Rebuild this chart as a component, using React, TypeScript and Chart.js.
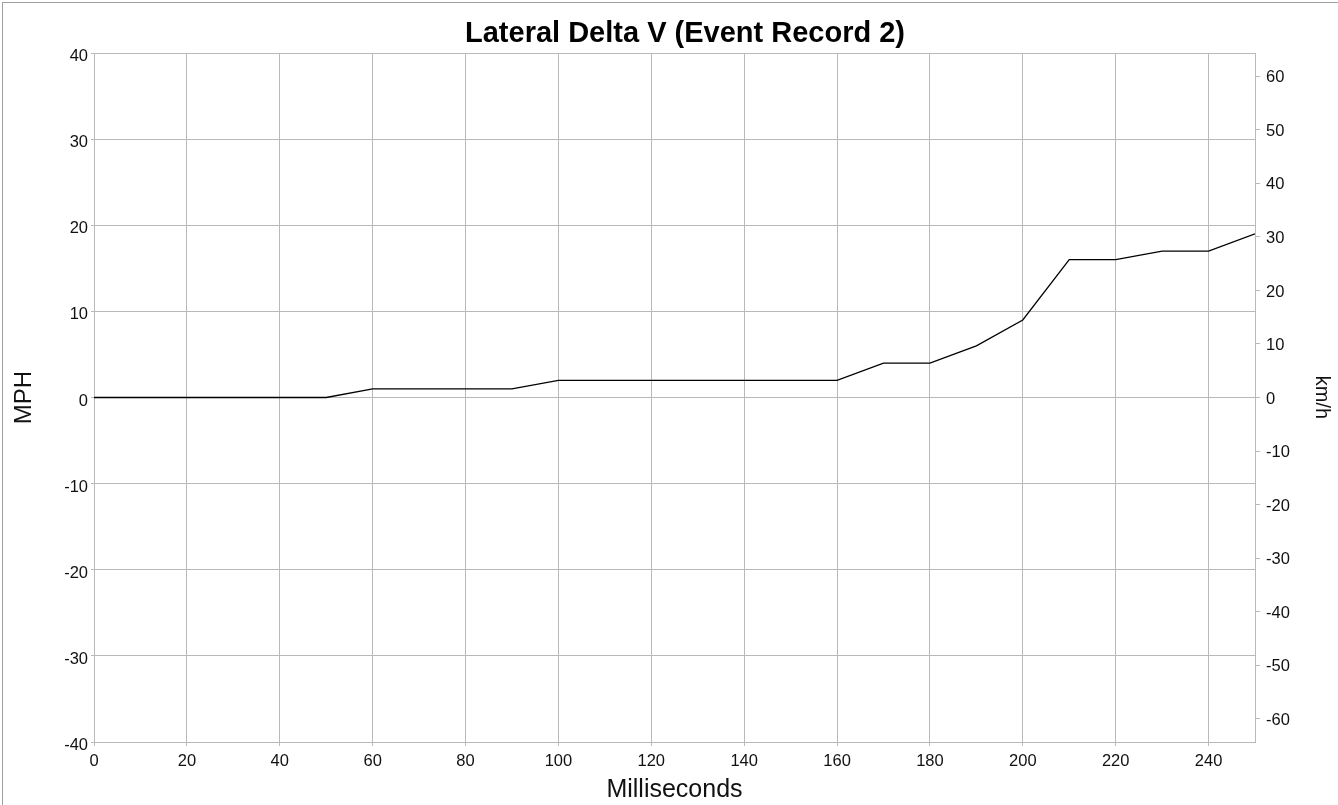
import React, { useEffect, useRef } from "react";
import { Chart, registerables } from "chart.js";

Chart.register(...registerables);

const titleText = "Lateral Delta V (Event Record 2)";
const timesMs = [0, 10, 20, 30, 40, 50, 60, 70, 80, 90, 100, 110, 120, 130, 140, 150, 160, 170, 180, 190, 200, 210, 220, 230, 240, 250];
const deltaVMph = [0, 0, 0, 0, 0, 0, 1, 1, 1, 1, 2, 2, 2, 2, 2, 2, 2, 4, 4, 6, 9, 16, 16, 17, 17, 19];
const mphMin = -40;
const mphMax = 40;
const mphStep = 10;
const kmhPerMph = 1.609344;
const kmhStep = 10;
const xMin = 0;
const xMax = 250;
const xStep = 20;
const xTitle = "Milliseconds";
const yLeftTitle = "MPH";
const yRightTitle = "km/h";

const FONT = '"Liberation Sans", Arial, sans-serif';
const GRID = "#b9b9b9";
const TEXT = "#111";

export default function App() {
  const ref = useRef<HTMLCanvasElement | null>(null);

  useEffect(() => {
    if (!ref.current) return;
    const titlePlugin = {
      id: "customTitle",
      afterDraw(chart: any) {
        const ctx = chart.ctx;
        ctx.save();
        ctx.font = `bold 29px ${FONT}`;
        ctx.fillStyle = "#000";
        ctx.textAlign = "center";
        ctx.textBaseline = "alphabetic";
        ctx.fillText(titleText, 685, 42);
        ctx.restore();
      },
    };
    const chart = new Chart(ref.current, {
      type: "line",
      data: {
        datasets: [
          {
            label: "Lateral Delta V",
            data: timesMs.map((t, i) => ({ x: t, y: deltaVMph[i] })),
            borderColor: "#000",
            borderWidth: 1.3,
            pointRadius: 0,
            tension: 0,
            fill: false,
          },
        ],
      },
      options: {
        responsive: false,
        animation: false,
        layout: { padding: { top: 53, left: 0, right: 0, bottom: 0 } },
        plugins: {
          legend: { display: false },
          title: { display: false },
          tooltip: { enabled: false },
        },
        scales: {
          x: {
            type: "linear",
            min: xMin,
            max: xMax,
            afterFit: (s: any) => {
              s.height = 63;
            },
            ticks: {
              stepSize: xStep,
              includeBounds: false,
              color: TEXT,
              font: { family: FONT, size: 16.5 },
              padding: 6,
              maxRotation: 0,
            },
            grid: { color: GRID, lineWidth: 1, tickLength: 4 },
            border: { color: GRID },
            title: {
              display: true,
              text: xTitle,
              color: TEXT,
              font: { family: FONT, size: 25 },
              padding: { top: 0, bottom: 0 },
            },
          },
          y: {
            type: "linear",
            position: "left",
            min: mphMin,
            max: mphMax,
            afterFit: (s: any) => {
              s.width = 94;
            },
            ticks: {
              stepSize: mphStep,
              color: TEXT,
              font: { family: FONT, size: 16.5 },
              padding: 3,
              labelOffset: 3.5,
            },
            grid: { color: GRID, lineWidth: 1, tickLength: 3 },
            border: { color: GRID },
            title: {
              display: true,
              text: yLeftTitle,
              color: TEXT,
              font: { family: FONT, size: 24 },
              padding: { top: 10, bottom: 0 },
            },
          },
          y2: {
            type: "linear",
            position: "right",
            min: mphMin * kmhPerMph,
            max: mphMax * kmhPerMph,
            afterFit: (s: any) => {
              s.width = 83;
            },
            ticks: {
              stepSize: kmhStep,
              includeBounds: false,
              color: TEXT,
              font: { family: FONT, size: 16.5 },
              padding: 6,
              labelOffset: 1.5,
            },
            grid: { color: GRID, lineWidth: 1, tickLength: 5, drawOnChartArea: false },
            border: { color: GRID },
            title: {
              display: true,
              text: yRightTitle,
              color: TEXT,
              font: { family: FONT, size: 20 },
              padding: { top: 4, bottom: 0 },
            },
          },
        },
      },
      plugins: [titlePlugin],
    });
    return () => chart.destroy();
  }, []);

  return (
    <>
      <canvas
        ref={ref}
        width={1338}
        height={805}
        style={{ position: "fixed", left: 0, top: 0, width: 1338, height: 805, background: "#fff" }}
      />
      <div
        style={{
          position: "fixed",
          left: 2,
          top: 2,
          width: 1336,
          height: 803,
          boxSizing: "border-box",
          borderTop: "1px solid #a0a0a0",
          borderLeft: "1px solid #a0a0a0",
          pointerEvents: "none",
        }}
      />
    </>
  );
}
